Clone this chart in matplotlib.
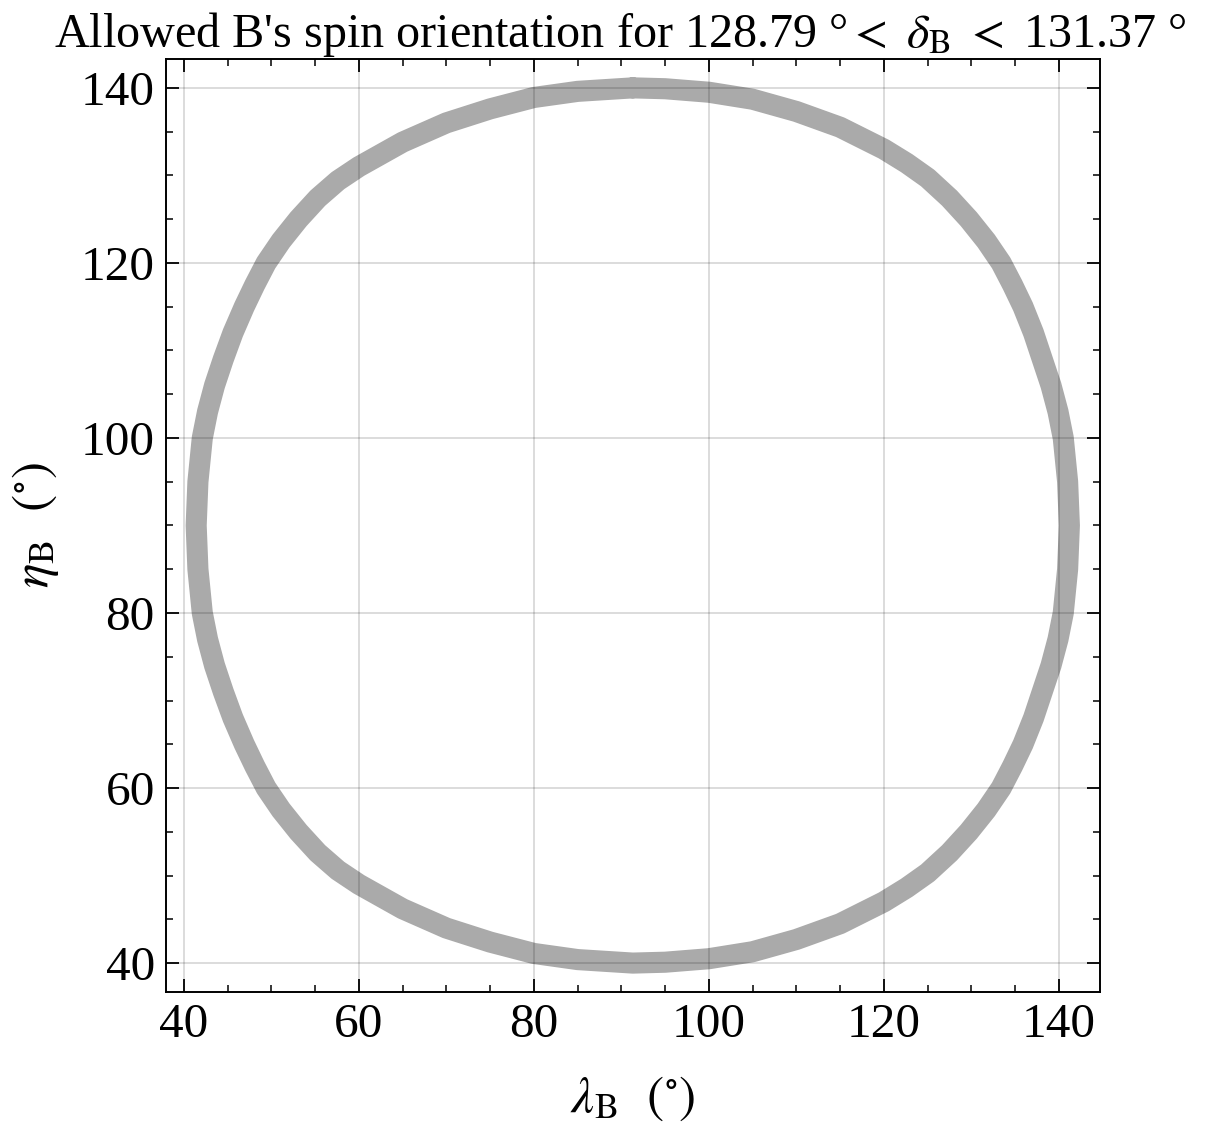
import matplotlib
matplotlib.use("Agg")
import matplotlib.pyplot as plt
from matplotlib.ticker import MultipleLocator

# Centre line of the allowed band (lambda_B, eta_B) in degrees, read clockwise from the top
lam = [91.3, 95.0, 100.0, 105.0, 110.0, 115.0, 120.0, 122.6, 125.0, 127.5,
       129.7, 131.7, 133.4, 134.7, 135.9, 137.1, 138.1, 139.1, 139.9, 140.5,
       141.0, 141.2,
       141.0, 140.5, 139.9, 139.1, 138.1, 137.1, 135.9, 134.7, 133.4, 131.7,
       129.7, 127.5, 125.0, 122.6, 120.0, 115.0, 110.0, 105.0, 100.0, 95.0,
       91.3,
       85.0, 80.0, 75.0, 70.0, 65.0, 60.0, 57.6, 55.3, 53.1, 51.1,
       49.4, 48.1, 46.9, 45.6, 44.5, 43.5, 42.7, 42.1, 41.6, 41.4,
       41.6, 42.1, 42.7, 43.5, 44.5, 45.6, 46.9, 48.1, 49.4, 51.1,
       53.1, 55.3, 57.6, 60.0, 65.0, 70.0, 75.0, 80.0, 85.0, 91.3]
eta = [140.0, 139.9, 139.5, 138.7, 137.3, 135.5, 133.0, 131.4, 129.7, 127.4,
       125.0, 122.5, 120.0, 117.5, 115.0, 112.0, 109.0, 106.0, 103.0, 100.0,
       95.0, 90.0,
       85.0, 80.0, 77.0, 74.0, 71.0, 68.0, 65.0, 62.5, 60.0, 57.5,
       55.0, 52.6, 50.3, 48.6, 47.0, 44.5, 42.7, 41.3, 40.5, 40.1,
       40.0,
       40.4, 41.1, 42.4, 44.0, 46.2, 49.0, 50.6, 52.6, 55.0, 57.5,
       60.0, 62.5, 65.0, 68.0, 71.0, 74.0, 77.0, 80.0, 85.0, 90.0,
       95.0, 100.0, 103.0, 106.0, 109.0, 112.0, 115.0, 117.5, 120.0, 122.5,
       125.0, 127.4, 129.4, 131.0, 133.8, 136.0, 137.6, 138.9, 139.6, 140.0]

xticks = [40, 60, 80, 100, 120, 140]
yticks = [40, 60, 80, 100, 120, 140]

plt.rcParams['font.family'] = ['Liberation Serif', 'DejaVu Serif']
plt.rcParams['mathtext.fontset'] = 'stix'

fig = plt.figure(figsize=(12.16, 11.32), dpi=100)
ax = fig.add_axes([0.1365, 0.1237, 0.9046 - 0.1365, 0.9479 - 0.1237])

ax.plot(lam, eta, color='#aaaaaa', lw=15.2, solid_joinstyle='round',
        solid_capstyle='round', zorder=1)

ax.set_xlim(37.95, 144.7)
ax.set_ylim(36.7, 143.3)
ax.set_xticks(xticks)
ax.set_yticks(yticks)
ax.xaxis.set_minor_locator(MultipleLocator(5))
ax.yaxis.set_minor_locator(MultipleLocator(5))

ax.tick_params(which='both', direction='in', top=True, right=True,
               labelsize=35.5, pad=8)
ax.tick_params(which='major', length=9.4, width=1.3)
ax.tick_params(which='minor', length=5.3, width=1.1)
for s in ax.spines.values():
    s.set_linewidth(1.4)

ax.grid(True, which='major', color='black', alpha=0.18, lw=1.1, zorder=3)
ax.set_axisbelow(False)

ax.set_xlabel(r"$\lambda_{\rm B}$  $(^{\circ})$", fontsize=37, labelpad=20)
ax.set_ylabel(r"$\eta_{\rm B}$  $(^{\circ})$", fontsize=37, labelpad=14)
ax.set_title(r"Allowed B's spin orientation for 128.79 °$<\ \delta_{\rm B}\ <$ 131.37 °",
             fontsize=34.7, pad=5, x=0.486)

fig.savefig("out.png", dpi=100)
